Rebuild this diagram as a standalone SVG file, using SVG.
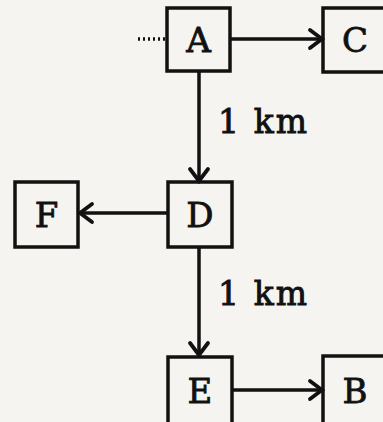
<svg xmlns="http://www.w3.org/2000/svg" width="383" height="422" viewBox="0 0 383 422">
<defs>
<style>
.box{fill:none;stroke:#111;stroke-width:3.5}
.lbl{font-family:"DejaVu Serif","Liberation Serif",serif;font-size:34px;fill:#111;stroke:#111;stroke-width:0.8;text-anchor:middle}
.dist{font-family:"DejaVu Serif","Liberation Serif",serif;font-size:33px;fill:#111;stroke:#111;stroke-width:0.9}
.ln{stroke:#111;stroke-width:3.5;fill:none}
.head{stroke:#111;stroke-width:3.8;fill:none;stroke-linecap:round;stroke-linejoin:miter}
</style>
</defs>
<rect width="383" height="422" fill="#f5f4f0"/>
<g id="connectors">
<line class="ln" x1="138" y1="39" x2="167" y2="39" stroke-dasharray="2 3" stroke-width="2"/>
<line class="ln" x1="230" y1="39" x2="322" y2="39"/>
<polyline class="head" points="310,30 322,39 310,48"/>
<line class="ln" x1="199" y1="71" x2="199" y2="181"/>
<polyline class="head" points="190,169 199,181 208,169"/>
<line class="ln" x1="168" y1="213" x2="80" y2="213"/>
<polyline class="head" points="92,204 80,213 92,222"/>
<line class="ln" x1="199" y1="247" x2="199" y2="355"/>
<polyline class="head" points="190,343 199,355 208,343"/>
<line class="ln" x1="232" y1="390" x2="322" y2="390"/>
<polyline class="head" points="310,381 322,390 310,399"/>
<text class="dist" x="218" y="133" textLength="89">1 km</text>
<text class="dist" x="218" y="305" textLength="89">1 km</text>
</g>
<g id="A"><rect class="box" x="167" y="8" width="63" height="63"/><text class="lbl" x="198.5" y="52">A</text></g>
<g id="C"><rect class="box" x="323" y="8" width="70" height="64"/><text class="lbl" x="355" y="52">C</text></g>
<g id="D"><rect class="box" x="168" y="182" width="64" height="65"/><text class="lbl" x="200" y="227">D</text></g>
<g id="F"><rect class="box" x="15" y="182" width="63" height="65"/><text class="lbl" x="46.5" y="227">F</text></g>
<g id="E"><rect class="box" x="168" y="357" width="64" height="70"/><text class="lbl" x="200" y="403">E</text></g>
<g id="B"><rect class="box" x="323" y="356" width="70" height="70"/><text class="lbl" x="355" y="403">B</text></g>
</svg>
